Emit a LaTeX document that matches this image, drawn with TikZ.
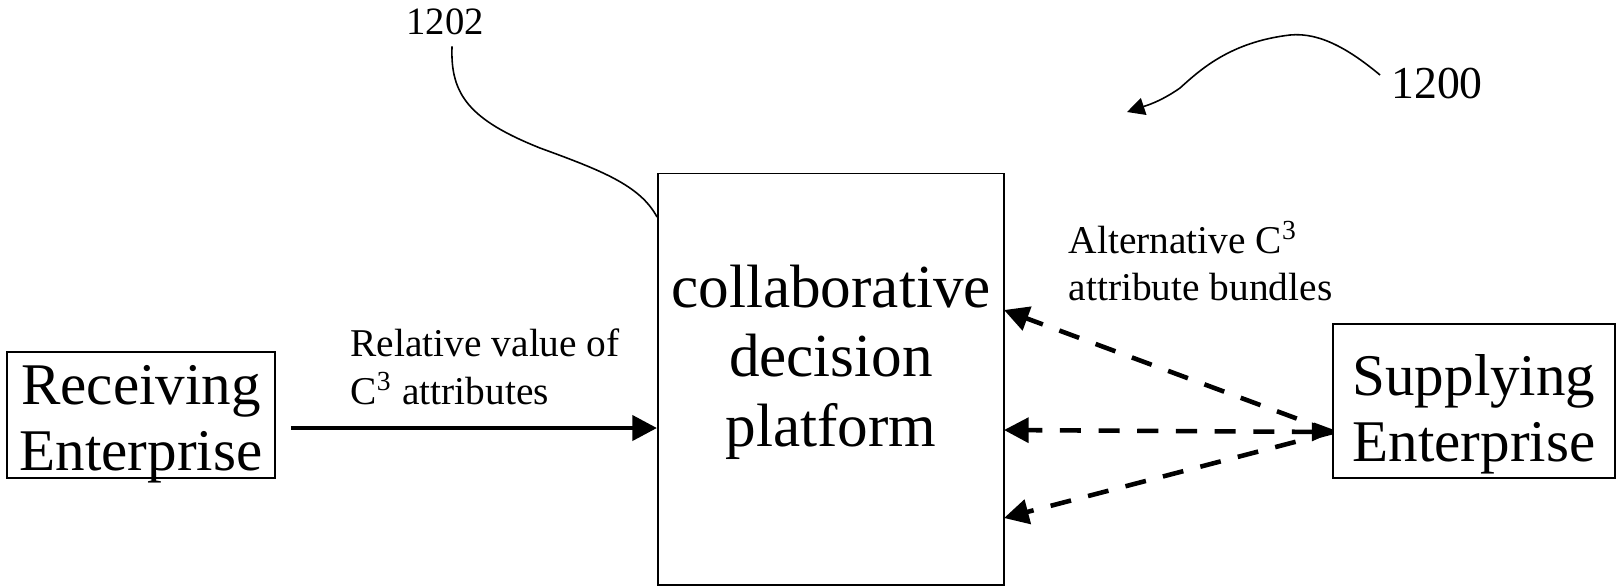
\documentclass[tikz,border=0pt]{standalone}
\usepackage{fontspec}
\setmainfont{Liberation Serif}
\usepackage{tikz}
\usetikzlibrary{arrows.meta, calc}

\tikzset{
  entbox/.style={draw, line width=0.5pt, inner sep=0pt},
  enttext/.style={align=center, inner sep=0pt, font=\fontsize{16.8}{18.8}\selectfont},
  platbox/.style={draw, line width=0.5pt, minimum width=3.46cm, minimum height=4.11cm},
  bigtext/.style={align=center, font=\fontsize{17.4}{19.8}\selectfont},
  flowlabel/.style={align=left, anchor=west, inner sep=0pt, font=\fontsize{11.2}{13.5}\selectfont},
  refnum/.style={inner sep=0pt, font=\fontsize{11}{13.5}\selectfont},
  leader/.style={line width=0.45pt},
  solidarrow/.style={line width=1.4pt, -{Triangle[length=7pt,width=7pt]}},
  dasharrow/.style={line width=1.3pt, dash pattern=on 6pt off 5pt, -{Triangle[length=7pt,width=7pt]}}
}

\begin{document}
\begin{tikzpicture}[x=0.01cm, y=-0.01cm]
  \useasboundingbox (0,0) rectangle (1619,587);

  \node[entbox, minimum width=2.68cm, minimum height=1.26cm] (recv) at (141,415) {};
  \node[enttext] (recvtext) at (141,424) {Receiving\\Enterprise};
  \node[entbox, minimum width=2.82cm, minimum height=1.54cm] (supply) at (1474,401) {};
  \node[enttext] (supplytext) at (1474,414) {Supplying\\Enterprise};
  \node[platbox] (platform) at (831,379) {};
  \node[bigtext] (platlabel) at (831,362) {collaborative\\decision\\platform};

  \node[flowlabel] (relval) at (350,367) {Relative value of\\C\textsuperscript{3} attributes};
  \node[flowlabel] (altbund) at (1068,261) {Alternative C\textsuperscript{3}\\attribute bundles};

  \node[refnum] (n1202) at (445,22) {1202};
  \node[refnum, font=\fontsize{13}{15}\selectfont] (n1200) at (1437,84) {1200};

  \coordinate (hub) at (1333,432);
  \coordinate (in1) at (1004,310);
  \coordinate (in2) at (1004,430);
  \coordinate (in3) at (1004,518);
  \coordinate (p1202) at (657,217);
  \coordinate (p1200) at (1127,112);

  \draw[solidarrow] ([xshift=0.15cm]recv.east |- 0,428) -- (platform.west |- 0,428);

  \draw[dasharrow] (hub) -- (in1);
  \draw[dasharrow, {Triangle[length=6pt,width=5pt]}-{Triangle[length=7pt,width=7pt]}] (hub) -- (in2);
  \draw[dasharrow] (hub) -- (in3);

  \draw[leader] ([xshift=2pt,yshift=-3pt]n1202.south) .. controls (450,95) and (470,120) .. (540,148)
    .. controls (600,170) and (640,185) .. (p1202);
  \draw[leader, -{Triangle[length=5pt,width=5pt]}] ([xshift=-3pt]n1200.west |- 0,75) .. controls (1350,50) and (1320,32) .. (1290,35)
    .. controls (1230,42) and (1200,70) .. (1180,88) .. controls (1160,102) and (1145,106) .. (p1200);
\end{tikzpicture}
\end{document}
